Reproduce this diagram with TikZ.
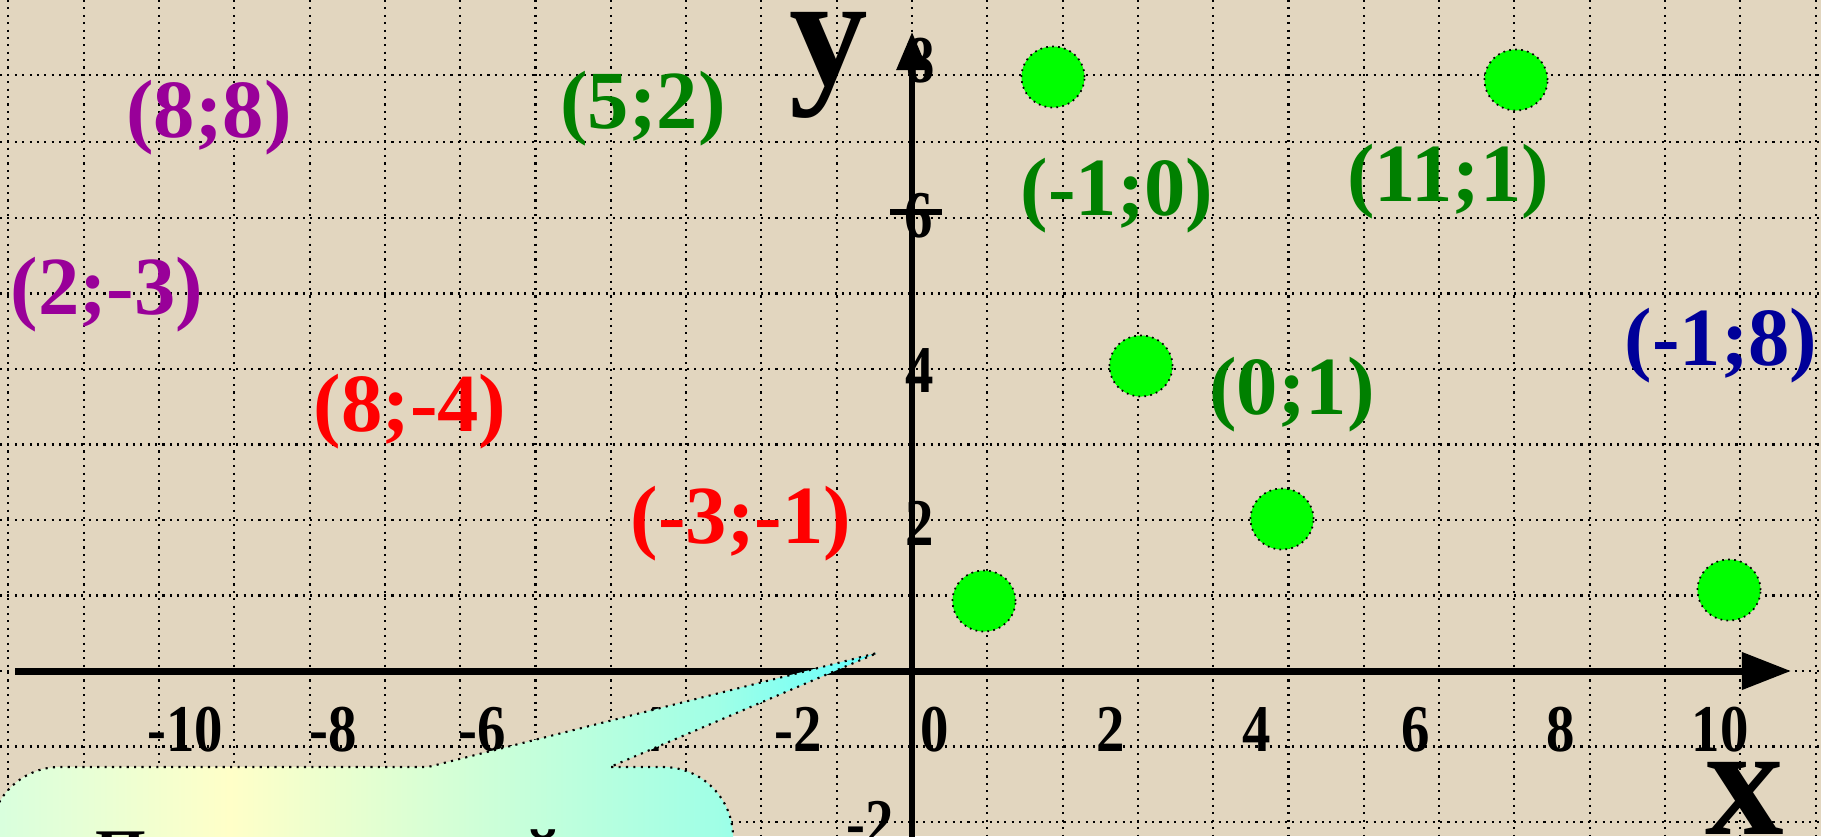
\documentclass[tikz,border=0pt]{standalone}
\usepackage{fontspec}
\setmainfont{Liberation Serif}
\usepackage{graphicx}
\usetikzlibrary{arrows.meta,shapes.geometric}

\definecolor{bg}{RGB}{226,214,191}
\definecolor{ptgreen}{RGB}{0,128,0}
\definecolor{ptpurple}{RGB}{153,0,153}
\definecolor{ptred}{RGB}{255,0,0}
\definecolor{ptblue}{RGB}{0,0,153}
\definecolor{dotgreen}{RGB}{0,255,0}
\definecolor{cmint}{RGB}{215,255,222}
\definecolor{cyel}{RGB}{255,255,200}
\definecolor{cmid}{RGB}{160,255,230}
\definecolor{ccyan}{RGB}{100,255,255}
\pgfdeclarehorizontalshading{calloutshade}{100bp}{color(0bp)=(cmint); color(25bp)=(cmint); color(38.5bp)=(cyel); color(66bp)=(cmid); color(75bp)=(ccyan); color(100bp)=(ccyan)}

\begin{document}
\begin{tikzpicture}[x=0.01cm,y=0.01cm,
 gridline/.style={line width=0.6pt, dash pattern=on 0.6pt off 1.5pt},
 ptlabel/.style={font=\fontsize{23.5}{24}\selectfont\bfseries, inner sep=0pt},
 ticklabel/.style={font=\fontsize{19}{20}\selectfont\bfseries, inner sep=0pt, anchor=base},
 axletter/.style={font=\fontsize{44.7}{46}\selectfont\bfseries, inner sep=0pt, anchor=base},
 calltext/.style={font=\fontsize{18.5}{20}\selectfont\bfseries, inner sep=0pt, anchor=base west},
 gdot/.style={ellipse, fill=dotgreen, draw=black, line width=0.5pt, dash pattern=on 0.5pt off 1.2pt, minimum width=0.63cm, minimum height=0.61cm, inner sep=0pt}
]
\useasboundingbox (0,-836) rectangle (1821,0);
\clip (0,-836) rectangle (1821,0);
\fill[bg] (0,-836) rectangle (1821,0);

% grid
\foreach \k in {-12,...,12}
  \draw[gridline] ({912+75.3*\k},0) -- ({912+75.3*\k},-836);
\foreach \yy in {75,142,218,293.5,369,444.5,520,595.5,671,746.5,822}
  \draw[gridline] (0,-\yy) -- (1821,-\yy);

% axes
\coordinate (xs) at (15,-671);
\coordinate (xe) at (1791,-671);
\coordinate (ys) at (912,-845);
\coordinate (ye) at (912,-32);
\coordinate (t6a) at (890,-212);
\coordinate (t6b) at (942,-212);
\draw[line width=0.07cm, -{Triangle[length=0.49cm,width=0.36cm]}] (xs) -- (xe);
\draw[line width=0.06cm, -{Triangle[length=0.38cm,width=0.30cm]}] (ys) -- (ye);
\draw[line width=0.06cm] (t6a) -- (t6b);

% axis letters
\node[axletter] (ylab) at (829,-84) {y};
\node[axletter] (xlab) at (1745,-834) {x};

% x tick labels
\foreach \v/\px in {-10/185,-8/333,-6/482,-4/640,-2/798,0/935,2/1111,4/1257,6/1416,8/1561,10/1720}
  \node[ticklabel] (tx\v) at (\px,-751) {\scalebox{0.85}[1]{\v}};
% y tick labels
\node[ticklabel] (ty8) at (921,-82) {\scalebox{0.85}[1]{8}};
\node[ticklabel] (ty6) at (919,-237) {\scalebox{0.85}[1]{6}};
\node[ticklabel] (ty4) at (920,-392) {\scalebox{0.85}[1]{4}};
\node[ticklabel] (ty2) at (920,-545) {\scalebox{0.85}[1]{2}};
\node[ticklabel] (tym2) at (870,-845) {\scalebox{0.85}[1]{-2}};

% point labels
\node[ptlabel, text=ptpurple] (l88) at (209,-118) {(8;8)};
\node[ptlabel, text=ptpurple] (l2m3) at (107,-295) {(2;-3)};
\node[ptlabel, text=ptgreen] (l52) at (643,-109) {(5;2)};
\node[ptlabel, text=ptgreen] (lm10) at (1117,-196) {(-1;0)};
\node[ptlabel, text=ptgreen] (l111) at (1448,-182) {(11;1)};
\node[ptlabel, text=ptgreen] (l01) at (1292,-395) {(0;1)};
\node[ptlabel, text=ptblue] (lm18) at (1721,-346) {(-1;8)};
\node[ptlabel, text=ptred] (l8m4) at (410,-412) {(8;-4)};
\node[ptlabel, text=ptred] (lm3m1) at (741,-524) {(-3;-1)};

% green dots
\node[gdot] (d1) at (1053,-77) {};
\node[gdot] (d2) at (1516,-80) {};
\node[gdot] (d3) at (1141,-366) {};
\node[gdot] (d4) at (1282,-519) {};
\node[gdot] (d5) at (984,-601) {};
\node[gdot] (d6) at (1729,-590) {};

% callout
\coordinate (ctip) at (877,-653);
\shadedraw[shading=calloutshade, gridline]
  (-10,-1000) -- (-10,-837) arc[start angle=180,end angle=90,radius=0.7cm]
  -- (428,-767) -- (ctip) -- (610,-767) -- (663,-767)
  arc[start angle=90,end angle=0,radius=0.7cm] -- (733,-1000) -- cycle;
\node[calltext] (ctext) at (95,-874) {Прямоугольной};
\end{tikzpicture}
\end{document}
